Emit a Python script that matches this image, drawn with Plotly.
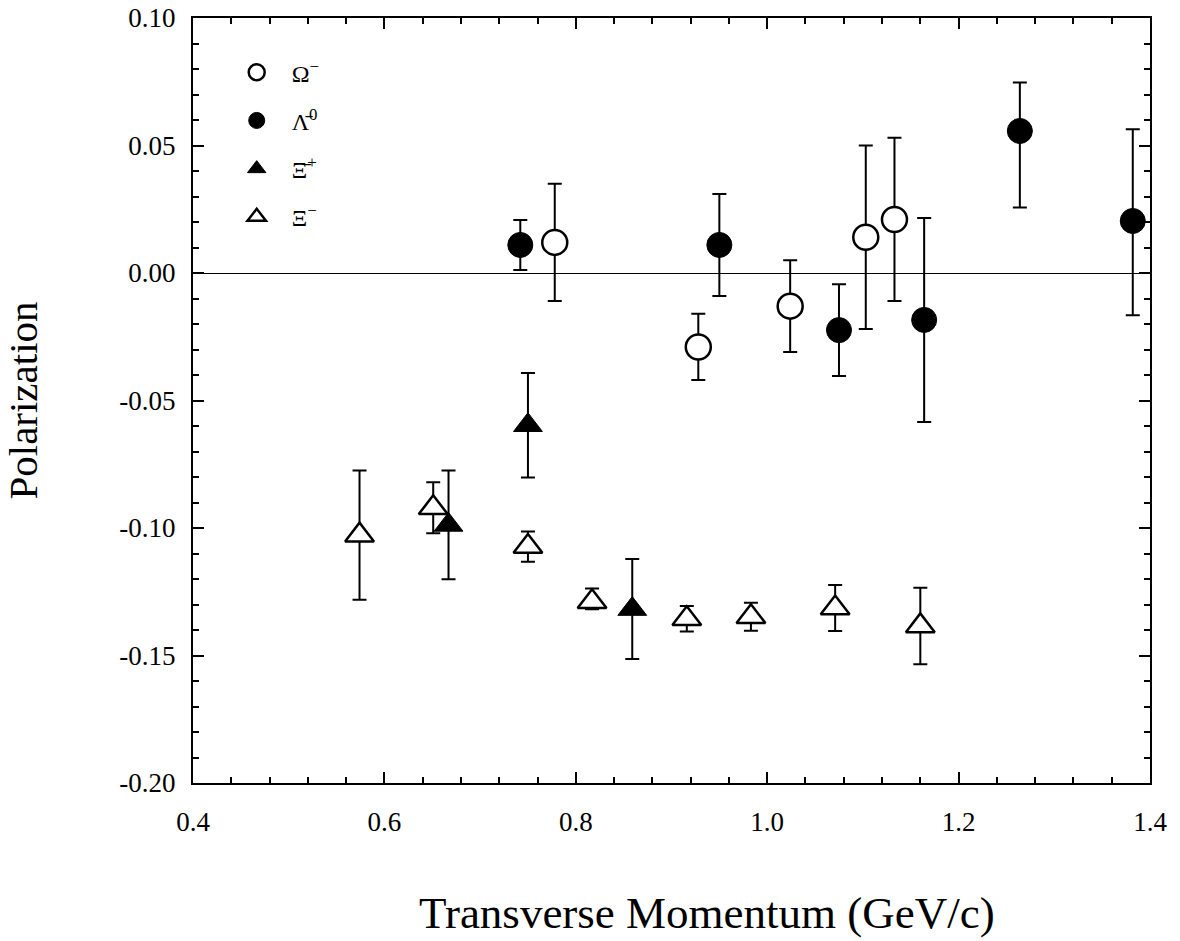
import plotly.graph_objects as go

# Omega- (open circles)
omega_x = [0.778, 0.928, 1.024, 1.103, 1.133]
omega_y = [0.012, -0.029, -0.013, 0.014, 0.021]
omega_err = [0.023, 0.013, 0.018, 0.036, 0.032]

# anti-Lambda0 (filled circles)
lam_x = [0.742, 0.950, 1.075, 1.164, 1.264, 1.382]
lam_y = [0.011, 0.011, -0.0224, -0.0184, 0.0557, 0.0204]
lam_err_plus = [0.0098, 0.020, 0.018, 0.040, 0.019, 0.036]
lam_err_minus = [0.0098, 0.020, 0.018, 0.040, 0.030, 0.037]

# anti-Xi+ (filled triangles)
xip_x = [0.667, 0.750, 0.859]
xip_y = [-0.0988, -0.0597, -0.1318]
xip_err = [0.0213, 0.0205, 0.0196]

# Xi- (open triangles)
xim_x = [0.574, 0.651, 0.750, 0.817, 0.916, 0.983, 1.071, 1.160]
xim_y = [-0.1028, -0.0921, -0.1073, -0.1289, -0.1356, -0.1348, -0.1314, -0.1384]
xim_err_plus = [0.0253, 0.010, 0.0059, 0.0052, 0.005, 0.0055, 0.009, 0.015]
xim_err_minus = [0.0253, 0.010, 0.0059, 0.003, 0.005, 0.0055, 0.009, 0.015]

names = ["Ω<sup>−</sup>", "Λ\u0304<sup>0</sup>", "Ξ\u0304<sup>+</sup>", "Ξ<sup>−</sup>"]

x_ticks = [0.4, 0.6, 0.8, 1.0, 1.2, 1.4]
x_ticktext = ["0.4", "0.6", "0.8", "1.0", "1.2", "1.4"]
y_ticks = [0.10, 0.05, 0.00, -0.05, -0.10, -0.15, -0.20]
y_ticktext = ["0.10", "0.05", "0.00", "-0.05", "-0.10", "-0.15", "-0.20"]

x_title = "Transverse Momentum (GeV/c)"
y_title = "Polarization"

FONT = "Liberation Serif, Times New Roman, serif"

def ebar(plus, minus=None):
    d = dict(type="data", array=plus, visible=True, color="black",
             thickness=2, width=7)
    if minus is not None:
        d["symmetric"] = False
        d["arrayminus"] = minus
    return d

fig = go.Figure()
fig.add_trace(go.Scatter(
    x=omega_x, y=omega_y, mode="markers", name=names[0], legendgroup="a",
    error_y=ebar(omega_err),
    marker=dict(symbol="circle", size=25, color="white",
                line=dict(color="black", width=2.5))))
fig.add_trace(go.Scatter(
    x=lam_x, y=lam_y, mode="markers", name=names[1], legendgroup="b",
    error_y=ebar(lam_err_plus, lam_err_minus),
    marker=dict(symbol="circle", size=25, color="black",
                line=dict(color="black", width=1))))
fig.add_trace(go.Scatter(
    x=xip_x, y=xip_y, mode="markers", name=names[2], legendgroup="c",
    error_y=ebar(xip_err),
    marker=dict(symbol="triangle-up", size=25, color="black",
                line=dict(color="black", width=1))))
fig.add_trace(go.Scatter(
    x=xim_x, y=xim_y, mode="markers", name=names[3], legendgroup="d",
    error_y=ebar(xim_err_plus, xim_err_minus),
    marker=dict(symbol="triangle-up", size=25, color="white",
                line=dict(color="black", width=2.5))))

axis_common = dict(
    showline=True, linecolor="black", linewidth=2, mirror="allticks",
    ticks="inside", ticklen=11, tickwidth=2, tickcolor="black",
    showgrid=False, automargin=False,
    tickfont=dict(family=FONT, size=27, color="black"),
)

fig.update_xaxes(
    range=[0.4, 1.4], tickmode="array", tickvals=x_ticks, ticktext=x_ticktext,
    minor=dict(dtick=0.04, tick0=0.4, ticks="inside", ticklen=6,
               tickwidth=1.5, tickcolor="black"),
    zeroline=False, ticklabelstandoff=14,
    **axis_common)
fig.update_yaxes(
    range=[-0.20, 0.10], tickmode="array", tickvals=y_ticks, ticktext=y_ticktext,
    minor=dict(dtick=0.01, tick0=0, ticks="inside", ticklen=6,
               tickwidth=1.5, tickcolor="black"),
    zeroline=True, zerolinecolor="black", zerolinewidth=1.2,
    ticklabelstandoff=10,
    title=dict(text=y_title,
               font=dict(family=FONT, size=41, color="black"), standoff=80),
    **axis_common)

fig.add_annotation(
    text=x_title, xref="paper", yref="paper", x=0.537, y=-0.17,
    xanchor="center", yanchor="middle", showarrow=False,
    font=dict(family=FONT, size=45, color="black"))

fig.update_layout(
    width=1180, height=941,
    margin=dict(l=193, r=30, t=18, b=158),
    paper_bgcolor="white", plot_bgcolor="white",
    font=dict(family=FONT, color="black"),
    showlegend=True,
    legend=dict(x=0.03, y=0.958, xanchor="left", yanchor="top",
                bgcolor="rgba(0,0,0,0)", borderwidth=0,
                font=dict(family=FONT, size=24, color="black"),
                tracegroupgap=14, itemwidth=60),
)

fig.write_html("out.html")
